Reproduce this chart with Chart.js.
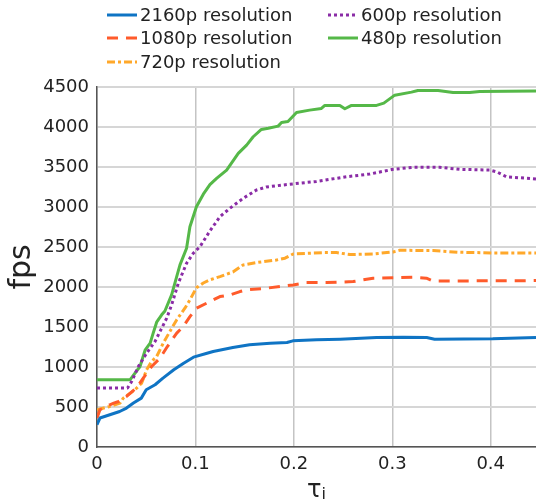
<!DOCTYPE html>
<html>
<head>
<meta charset="utf-8">
<script src="https://cdn.jsdelivr.net/npm/chart.js@4"></script>
<style>
  body { margin: 0; background: #fff; }
</style>
</head>
<body>
<canvas id="fpsChart" width="536" height="504"></canvas>
<script>
// axis ticks
const xTicks = [0, 0.1, 0.2, 0.3, 0.4];
const yTicks = [0, 500, 1000, 1500, 2000, 2500, 3000, 3500, 4000, 4500];

// 2160p resolution
const tau2160 = [0, 0.003, 0.013, 0.023, 0.030, 0.037, 0.045, 0.050, 0.059, 0.067, 0.078, 0.088, 0.098, 0.110, 0.118, 0.138, 0.155, 0.176, 0.193, 0.199, 0.223, 0.247, 0.284, 0.311, 0.335, 0.343, 0.402, 0.446];
const fps2160 = [278, 362, 403, 444, 487, 549, 611, 715, 778, 861, 965, 1048, 1123, 1165, 1194, 1243, 1277, 1298, 1306, 1327, 1340, 1348, 1369, 1373, 1369, 1348, 1352, 1369];

// 1080p resolution
const tau1080 = [0, 0.003, 0.013, 0.017, 0.022, 0.030, 0.040, 0.047, 0.0555, 0.064, 0.0715, 0.081, 0.0876, 0.0944, 0.101, 0.1114, 0.1249, 0.135, 0.1452, 0.152, 0.172, 0.1993, 0.2129, 0.2332, 0.2602, 0.2805, 0.321, 0.3347, 0.3414, 0.3685, 0.446];
const fps1080 = [362, 466, 528, 549, 569, 632, 737, 861, 1006, 1111, 1256, 1423, 1506, 1630, 1735, 1798, 1880, 1901, 1943, 1964, 1985, 2026, 2055, 2055, 2068, 2110, 2122, 2110, 2076, 2076, 2080];

// 720p resolution
const tau720 = [0, 0.013, 0.0234, 0.0267, 0.0386, 0.0454, 0.0504, 0.0555, 0.0606, 0.0673, 0.074, 0.0809, 0.0893, 0.0944, 0.101, 0.108, 0.1147, 0.1249, 0.1384, 0.1485, 0.162, 0.1824, 0.191, 0.1993, 0.2297, 0.2433, 0.257, 0.2805, 0.3008, 0.3076, 0.3414, 0.3685, 0.4023, 0.446];
const fps720 = [466, 507, 549, 611, 715, 799, 965, 1069, 1131, 1298, 1443, 1589, 1735, 1839, 1990, 2050, 2090, 2130, 2190, 2276, 2305, 2338, 2360, 2413, 2430, 2430, 2405, 2413, 2438, 2459, 2455, 2434, 2426, 2426];

// 600p resolution
const tau600 = [0, 0.031, 0.0352, 0.042, 0.0504, 0.0589, 0.064, 0.0708, 0.0758, 0.0826, 0.091, 0.0978, 0.1046, 0.1147, 0.1249, 0.135, 0.1485, 0.162, 0.172, 0.196, 0.223, 0.2535, 0.277, 0.3008, 0.321, 0.348, 0.3685, 0.399, 0.4058, 0.416, 0.446];
const fps600 = [737, 737, 819, 1006, 1173, 1318, 1443, 1610, 1776, 2047, 2297, 2422, 2504, 2700, 2879, 2984, 3109, 3212, 3250, 3285, 3320, 3378, 3412, 3471, 3496, 3496, 3471, 3462, 3441, 3378, 3350];

// 480p resolution
const tau480 = [0, 0.0335, 0.0437, 0.049, 0.054, 0.057, 0.0606, 0.0657, 0.069, 0.0758, 0.0843, 0.091, 0.0944, 0.101, 0.108, 0.1147, 0.1215, 0.1317, 0.1435, 0.152, 0.1587, 0.167, 0.174, 0.184, 0.1875, 0.194, 0.2027, 0.216, 0.228, 0.2315, 0.2467, 0.2518, 0.2586, 0.284, 0.2914, 0.3025, 0.3195, 0.326, 0.3465, 0.3617, 0.3787, 0.3888, 0.446];
const fps480 = [840, 840, 1006, 1215, 1298, 1420, 1560, 1652, 1700, 1901, 2276, 2484, 2754, 3004, 3160, 3280, 3358, 3462, 3670, 3774, 3878, 3970, 3985, 4011, 4057, 4068, 4182, 4211, 4232, 4270, 4270, 4228, 4270, 4270, 4298, 4398, 4436, 4457, 4457, 4432, 4432, 4445, 4450];

Chart.defaults.font.family = 'DejaVu Sans';
Chart.defaults.color = '#222';

function toPoints(xs, ys) {
    return xs.map((x, i) => ({ x: x, y: ys[i] }));
}

function makeSeries(label, xs, ys, color, dash) {
    return {
        label: label,
        data: toPoints(xs, ys),
        borderColor: color,
        backgroundColor: color,
        borderWidth: 3,
        borderDash: dash,
        borderCapStyle: 'butt',
        borderJoinStyle: 'round',
        pointRadius: 0,
        tension: 0,
        fill: false
    };
}

const datasets = [
    makeSeries('2160p resolution', tau2160, fps2160, '#0f74c4', []),
    makeSeries('1080p resolution', tau1080, fps1080, '#ff5b2b', [11, 8]),
    makeSeries('720p resolution', tau720, fps720, '#ffa82a', [8, 3, 3, 3]),
    makeSeries('600p resolution', tau600, fps600, '#8a2ca6', [3, 3]),
    makeSeries('480p resolution', tau480, fps480, '#55b848', [])
];

// two-column legend like the original figure
const legendSlots = [
    { col: 0, row: 0 }, { col: 0, row: 1 }, { col: 0, row: 2 },
    { col: 1, row: 0 }, { col: 1, row: 1 }
];
const legendPlugin = {
    id: 'colLegend',
    afterDraw(chart) {
        const ctx = chart.ctx;
        const colX = [107, 328];
        const rowY = [15, 38, 62];
        ctx.save();
        ctx.font = '18px "DejaVu Sans"';
        ctx.textBaseline = 'middle';
        ctx.fillStyle = '#222';
        chart.data.datasets.forEach((ds, i) => {
            const slot = legendSlots[i];
            const x = colX[slot.col];
            const y = rowY[slot.row];
            ctx.strokeStyle = ds.borderColor;
            ctx.lineWidth = 3;
            ctx.setLineDash(ds.borderDash);
            ctx.beginPath();
            ctx.moveTo(x, y);
            ctx.lineTo(x + 30, y);
            ctx.stroke();
            ctx.setLineDash([]);
            ctx.fillText(ds.label, x + 33, y + 1);
        });
        ctx.restore();
    }
};

// x axis title with subscript
const xTitlePlugin = {
    id: 'tauTitle',
    afterDraw(chart) {
        const ctx = chart.ctx;
        const area = chart.chartArea;
        const cx = (area.left + area.right) / 2;
        ctx.save();
        ctx.fillStyle = '#222';
        ctx.textBaseline = 'alphabetic';
        ctx.font = '24px "DejaVu Sans"';
        const w1 = ctx.measureText('τ').width;
        ctx.font = '16px "DejaVu Sans"';
        const w2 = ctx.measureText('i').width;
        const start = cx - (w1 + w2) / 2;
        ctx.font = '24px "DejaVu Sans"';
        ctx.fillText('τ', start, 497);
        ctx.font = '16px "DejaVu Sans"';
        ctx.fillText('i', start + w1, 499);
        ctx.restore();
    }
};

new Chart(document.getElementById('fpsChart'), {
    type: 'line',
    data: { datasets: datasets },
    plugins: [legendPlugin, xTitlePlugin],
    options: {
        responsive: false,
        animation: false,
        layout: { padding: { top: 87, right: 0, bottom: 0, left: 0 } },
        plugins: {
            legend: { display: false },
            tooltip: { enabled: false }
        },
        scales: {
            x: {
                type: 'linear',
                min: 0,
                max: 0.446,
                afterBuildTicks: scale => { scale.ticks = xTicks.map(v => ({ value: v })); },
                afterFit: scale => { scale.height = 57; },
                ticks: {
                    font: { size: 18 },
                    color: '#222',
                    padding: 7,
                    maxRotation: 0,
                    callback: v => String(v)
                },
                grid: { color: '#c4c4c4', lineWidth: 1.5, drawTicks: false },
                border: { color: '#555', width: 1.5 }
            },
            y: {
                min: 0,
                max: 4500,
                afterBuildTicks: scale => { scale.ticks = yTicks.map(v => ({ value: v })); },
                afterFit: scale => { scale.width = 97; },
                ticks: {
                    font: { size: 18 },
                    color: '#222',
                    padding: 8,
                    callback: v => String(v)
                },
                title: {
                    display: true,
                    text: 'fps',
                    font: { size: 30 },
                    color: '#222',
                    padding: { top: 4, bottom: 0 }
                },
                grid: { color: '#d6d6d6', lineWidth: 2, drawTicks: false },
                border: { color: '#555', width: 1.5 }
            }
        }
    }
});
</script>
</body>
</html>
